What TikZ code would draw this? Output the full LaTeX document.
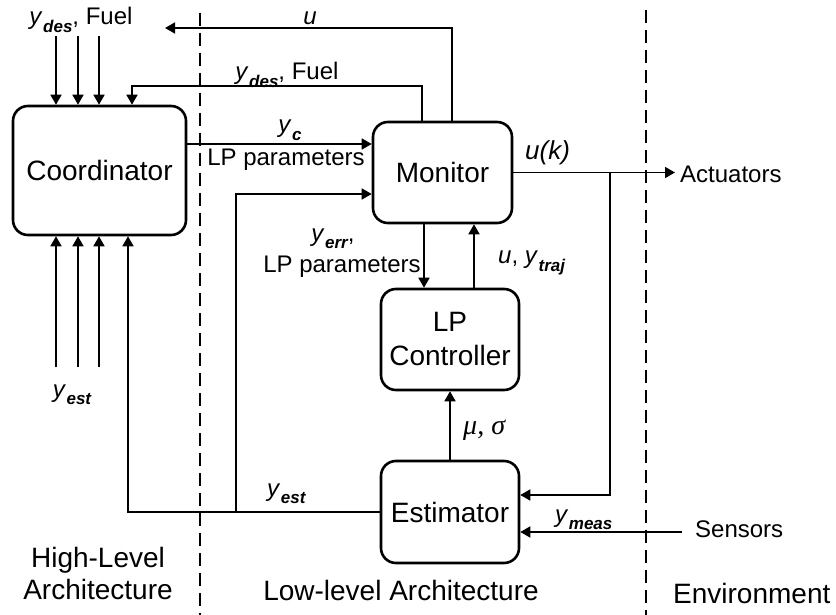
\documentclass[tikz,border=0pt]{standalone}
\usepackage{fontspec}
\setmainfont{Liberation Sans}
\newfontfamily\serifit{Liberation Serif}
\usetikzlibrary{arrows.meta}
\newcommand\ysb[1]{\textit{y}\kern0.5pt\raisebox{-0.32em}{\fontsize{17}{17}\selectfont\bfseries\itshape #1}}
\begin{document}
\begin{tikzpicture}[x=1pt,y=-1pt,
 blk/.style={draw,line width=2.6pt,rounded corners=15pt,inner sep=0pt,font=\fontsize{28}{34}\selectfont,align=center},
 ln/.style={line width=1.7pt},
 ar/.style={ln,-{Triangle[length=10pt,width=11pt]}},
 lbl/.style={inner sep=0pt,font=\fontsize{24}{26}\selectfont},
 big/.style={inner sep=0pt,font=\fontsize{28}{32}\selectfont,align=center},
 sepline/.style={line width=2.4pt,dash pattern=on 13pt off 7pt}]
\useasboundingbox (0,0) rectangle (836,615);
% separators
\coordinate (s1t) at (200,13); \coordinate (s1b) at (200,615);
\coordinate (s2t) at (646,10); \coordinate (s2b) at (646,615);
\draw[sepline] (s1t) -- (s1b);
\draw[sepline] (s2t) -- (s2b);
% blocks
\node[blk,minimum width=173pt,minimum height=129pt] (coord) at (99.5,170.5) {Coordinator};
\node[blk,minimum width=139pt,minimum height=101pt] (mon) at (442.5,172.5) {Monitor};
\node[blk,minimum width=138pt,minimum height=101pt] (lpc) at (450,339.5) {LP\\Controller};
\node[blk,minimum width=138pt,minimum height=102pt] (est) at (450,512) {Estimator};
% inputs above and below coordinator
\foreach \i/\x in {1/56,2/78,3/99}{
  \coordinate (ti\i) at (\x,36);
  \draw[ar] (ti\i) -- (ti\i |- coord.north);
  \coordinate (bi\i) at (\x,367);
  \draw[ar] (bi\i) -- (bi\i |- coord.south);
}
% u back to left
\coordinate (mu) at (452,28); \coordinate (uend) at (165,28);
\draw[ar] (mon.north -| mu) -- (mu) -- (uend);
% ydes fuel to coordinator
\coordinate (fd) at (422,86); \coordinate (fc) at (132,86);
\draw[ar] (mon.north -| fd) -- (fd) -- (fc) -- (fc |- coord.north);
% yc
\coordinate (yc) at (300,144);
\draw[ar] (coord.east |- yc) -- (mon.west |- yc);
% estimator to coordinator
\coordinate (ej) at (128,512);
\draw[ar] (est.west) -- (ej) -- (ej |- coord.south);
\coordinate (vj) at (236,512); \coordinate (vm) at (236,194);
\draw[ar] (vj) -- (vm) -- (mon.west |- vm);
% monitor <-> LP
\coordinate (md) at (424,250); \coordinate (mup) at (474,250);
\draw[ar] (mon.south -| md) -- (lpc.north -| md);
\draw[ar] (lpc.north -| mup) -- (mon.south -| mup);
% estimator -> LP
\draw[ar] (est.north) -- (lpc.south);
% monitor -> actuators
\coordinate (act) at (675,172.5);
\draw[ar] (mon.east) -- (act);
\coordinate (br) at (610,172.5); \coordinate (brd) at (610,495);
\draw[ar] (br) -- (brd) -- (est.east |- brd);
% sensors
\coordinate (sens) at (682,532);
\draw[ar] (sens) -- (est.east |- sens);
% labels
\node[lbl,anchor=base] (l1) at (81,25) {\ysb{des}, Fuel};
\node[lbl,anchor=base] (l2) at (310,25) {\textit{u}};
\node[lbl,anchor=base] (l3) at (287,80) {\ysb{des}, Fuel};
\node[lbl,anchor=base] (l4) at (290,133) {\ysb{c}};
\node[lbl] (l5) at (286,160) {LP parameters};
\node[lbl,anchor=base] (l6) at (333,241) {\ysb{err},};
\node[lbl] (l7) at (342,267) {LP parameters};
\node[lbl,anchor=west] (l8) at (498,263) {\textit{u},\ \ysb{traj}};
\node[lbl,anchor=west,font=\fontsize{26}{28}\selectfont] (l9) at (525,153) {\textit{u(k)}};
\node[lbl,anchor=west] (l10) at (680,174) {Actuators};
\node[lbl,anchor=west,font=\fontsize{28}{30}\selectfont] (l11) at (463,430) {\serifit\itshape μ,\ σ};
\node[lbl,anchor=base west] (l12) at (267,496) {\ysb{est}};
\node[lbl,anchor=base west] (l13) at (555,522) {\ysb{meas}};
\node[lbl,anchor=west] (l14) at (695,529) {Sensors};
\node[lbl,anchor=base] (l15) at (72,397) {\ysb{est}};
\node[big] (l16) at (98,573) {High-Level\\Architecture};
\node[big] (l17) at (401,590) {Low-level Architecture};
\node[big,anchor=west] (l18) at (673,593) {Environment};
\end{tikzpicture}
\end{document}
